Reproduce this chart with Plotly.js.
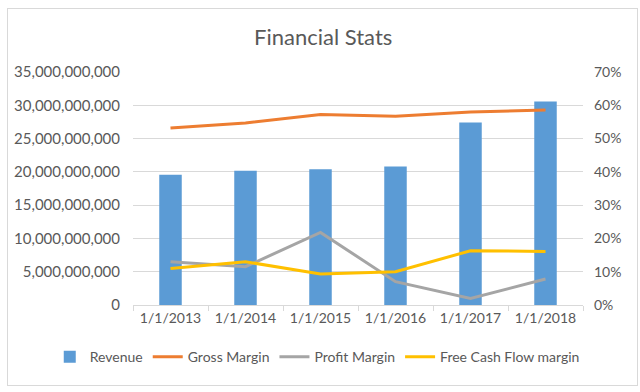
<!DOCTYPE html>
<html>
<head>
<meta charset="utf-8">
<script src="https://cdn.plot.ly/plotly-3.0.1.min.js"></script>
<style>
html,body{margin:0;padding:0;background:#fff;}
#wrap{position:relative;width:640px;height:392px;}
#chart{width:640px;height:392px;}
#frame{position:absolute;left:7px;top:8px;width:629px;height:376px;border:1px solid #d9d9d9;pointer-events:none;}
</style>
</head>
<body>
<div id="wrap"><div id="chart"></div><div id="frame"></div></div>
<script>
const categories = ["1/1/2013","1/1/2014","1/1/2015","1/1/2016","1/1/2017","1/1/2018"];
const revenue = [19.55e9, 20.15e9, 20.4e9, 20.8e9, 27.4e9, 30.55e9];
const grossMargin = [0.532, 0.547, 0.572, 0.567, 0.580, 0.586];
const profitMargin = [0.130, 0.115, 0.218, 0.070, 0.020, 0.078];
const fcfMargin = [0.110, 0.130, 0.093, 0.100, 0.163, 0.161];

const font = "Lato, 'Open Sans', sans-serif";
const txt = "#595959";

const traces = [
  {type:"bar", name:"Revenue", x:categories, y:revenue, marker:{color:"#5b9bd5"}, yaxis:"y"},
  {type:"scatter", mode:"lines", name:"Gross Margin", x:categories, y:grossMargin, line:{color:"#ed7d31", width:3}, yaxis:"y2"},
  {type:"scatter", mode:"lines", name:"Profit Margin", x:categories, y:profitMargin, line:{color:"#a5a5a5", width:3}, yaxis:"y2"},
  {type:"scatter", mode:"lines", name:"Free Cash Flow margin", x:categories, y:fcfMargin, line:{color:"#ffc000", width:3}, yaxis:"y2"}
];

const layout = {
  width:640, height:392,
  margin:{l:133, r:57, t:72, b:87},
  paper_bgcolor:"#fff", plot_bgcolor:"#fff",
  font:{family:font, size:14, color:txt},
  title:{text:"Financial Stats", x:0.505, xanchor:"center", y:0.905, yanchor:"middle", font:{family:font, size:22, color:txt}},
  bargap:0.7,
  showlegend:true,
  legend:{orientation:"h", x:-0.185, xanchor:"left", y:-0.155, yanchor:"top", font:{size:14, color:txt}, traceorder:"normal"},
  xaxis:{type:"category", showline:true, linecolor:"#d9d9d9", linewidth:1, ticks:"outside", tickson:"boundaries", ticklen:5, tickcolor:"#d9d9d9", showgrid:false, tickfont:{size:14, color:txt}, fixedrange:true},
  yaxis:{range:[0,35e9], dtick:5e9, tickformat:",d", gridcolor:"#d9d9d9", gridwidth:1, zeroline:false, showline:false, ticks:"", tickfont:{size:15, color:txt}, ticklabelstandoff:12},
  yaxis2:{range:[0,0.7], dtick:0.1, tickformat:".0%", overlaying:"y", side:"right", showgrid:false, zeroline:false, showline:false, tickfont:{size:14, color:txt}, ticklabelstandoff:10}
};

Plotly.newPlot("chart", traces, layout, {displayModeBar:false, staticPlot:true});
</script>
</body>
</html>
